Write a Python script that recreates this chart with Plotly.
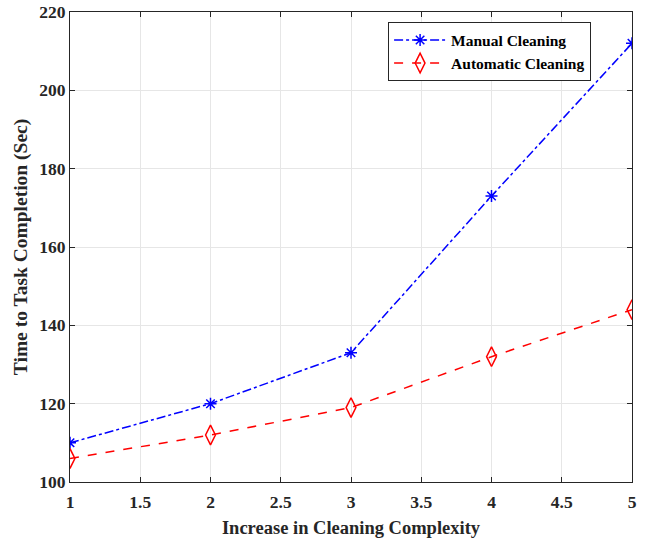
import plotly.graph_objects as go

complexity = [1, 2, 3, 4, 5]
manual = [110, 120, 133, 173, 212]
automatic = [106, 112, 119, 132, 144]

x_tickvals = [1, 1.5, 2, 2.5, 3, 3.5, 4, 4.5, 5]
x_ticktext = ["1", "1.5", "2", "2.5", "3", "3.5", "4", "4.5", "5"]
y_tickvals = [100, 120, 140, 160, 180, 200, 220]
y_ticktext = ["100", "120", "140", "160", "180", "200", "220"]

font_family = "Liberation Serif"
ink = "#262626"

fig = go.Figure()
fig.add_trace(go.Scatter(
    x=complexity, y=manual, mode="lines+markers", name="<b>Manual Cleaning</b>",
    line=dict(color="#0000ff", width=1.5, dash="dashdot"),
    marker=dict(symbol="asterisk-open", size=10, color="#0000ff", line=dict(color="#0000ff", width=1.5)),
))
fig.add_trace(go.Scatter(
    x=complexity, y=automatic, mode="lines+markers", name="<b>Automatic Cleaning</b>",
    line=dict(color="#ff0000", width=1.5, dash="dash"),
    marker=dict(symbol="diamond-tall-open", size=14, color="#ff0000", line=dict(color="#ff0000", width=1.5)),
))

axis_common = dict(
    showline=True, linecolor=ink, linewidth=1, mirror="ticks",
    ticks="inside", ticklen=5, tickcolor=ink,
    showgrid=True, gridcolor="#e6e6e6", gridwidth=1, zeroline=False,
    tickfont=dict(family=font_family, size=17.5, color=ink),
    automargin=False, ticklabeloverflow="allow",
)

fig.update_layout(
    width=647, height=538,
    margin=dict(l=70, r=15, t=12, b=56),
    paper_bgcolor="white", plot_bgcolor="white",
    font=dict(family=font_family, color=ink),
    xaxis=dict(range=[1, 5], tickmode="array", tickvals=x_tickvals,
               ticktext=["<b>" + t + "</b>" for t in x_ticktext],
               ticklabelstandoff=4,
               title=dict(text="<b>Increase in Cleaning Complexity</b>",
                          font=dict(size=18.5, family=font_family, color=ink), standoff=10),
               **axis_common),
    yaxis=dict(range=[100, 220], tickmode="array", tickvals=y_tickvals,
               ticktext=["<b>" + t + "</b>" for t in y_ticktext],
               title=dict(text="<b>Time to Task Completion (Sec)</b>",
                          font=dict(size=19.5, family=font_family, color=ink), standoff=6),
               **axis_common),
    legend=dict(x=0.566, y=0.978, xanchor="left", yanchor="top",
                bgcolor="white", bordercolor=ink, borderwidth=1,
                font=dict(family=font_family, size=15.5, color="black"),
                tracegroupgap=0, itemwidth=52),
)

fig.write_html("out.html", config={"displayModeBar": False},
               post_script="document.body.style.margin='0';")
